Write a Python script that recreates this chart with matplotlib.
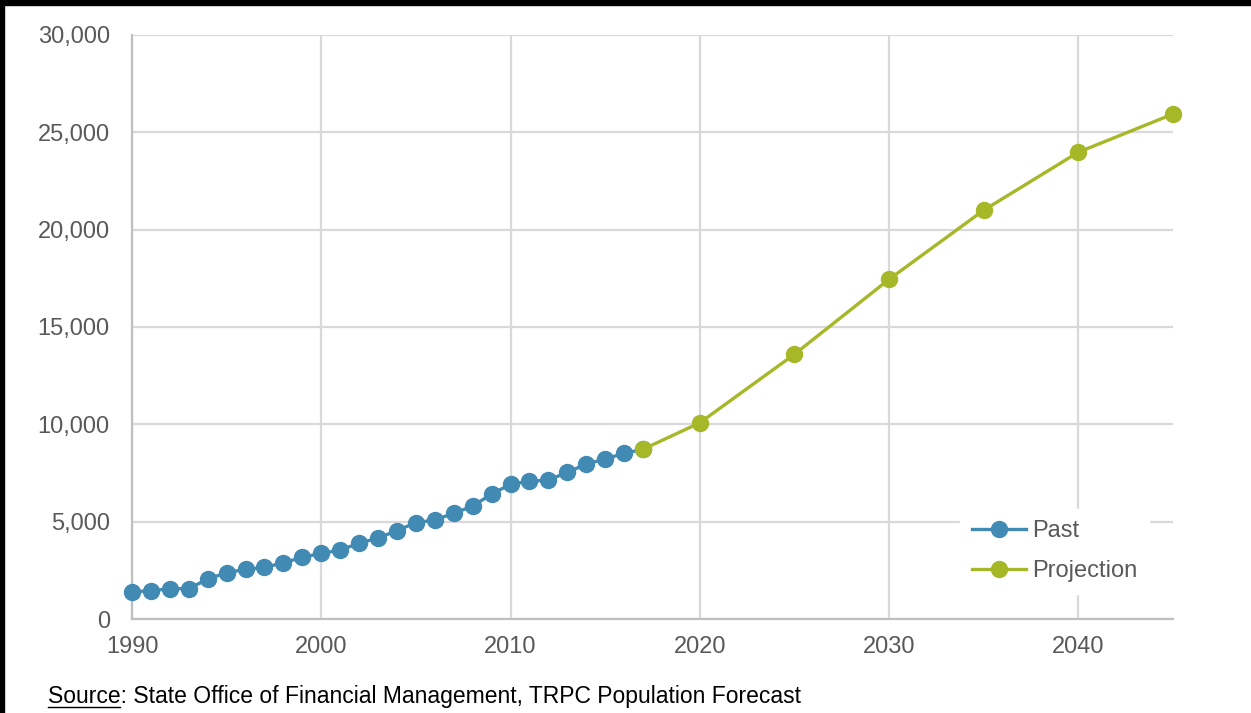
import numpy as np
import matplotlib.pyplot as plt
from matplotlib.ticker import FuncFormatter, MultipleLocator

plt.rcParams['font.family'] = ['Liberation Sans', 'DejaVu Sans']

# Population, past estimates
past_years = [1990, 1991, 1992, 1993, 1994, 1995, 1996, 1997, 1998, 1999,
              2000, 2001, 2002, 2003, 2004, 2005, 2006, 2007, 2008, 2009,
              2010, 2011, 2012, 2013, 2014, 2015, 2016, 2017]
past_pop = [1400, 1450, 1560, 1560, 2050, 2380, 2550, 2650, 2890, 3170,
            3370, 3540, 3890, 4160, 4540, 4950, 5090, 5430, 5800, 6420,
            6920, 7070, 7140, 7530, 7960, 8220, 8510, 8720]

# Forecast
proj_years = [2017, 2020, 2025, 2030, 2035, 2040, 2045]
proj_pop = [8720, 10080, 13600, 17450, 21000, 23980, 25940]

BLUE = '#418AB3'
GREEN = '#A6B727'
GRID = '#d9d9d9'
TEXT = '#595959'

W, H = 1251, 713
fig = plt.figure(figsize=(W / 100, H / 100), dpi=100)
ax = fig.add_axes([132 / W, 1 - 619 / H, (1173 - 132) / W, (619 - 35) / H])

ax.plot(past_years, past_pop, color=BLUE, lw=2.4, marker='o', ms=11.5,
        label='Past', zorder=3, clip_on=False)
ax.plot(proj_years, proj_pop, color=GREEN, lw=2.4, marker='o', ms=11.5,
        label='Projection', zorder=4, clip_on=False)

ax.set_xlim(1990, 2045)
ax.set_ylim(0, 30000)
ax.xaxis.set_major_locator(MultipleLocator(10))
ax.yaxis.set_major_locator(MultipleLocator(5000))
ax.yaxis.set_major_formatter(FuncFormatter(lambda v, p: f'{int(v):,}'))

ax.grid(True, color=GRID, lw=1.6, zorder=0)
ax.set_axisbelow(True)
for side in ['top', 'right']:
    ax.spines[side].set_visible(False)
for side in ['left', 'bottom']:
    ax.spines[side].set_color('#bfbfbf')
    ax.spines[side].set_linewidth(1.6)
ax.tick_params(length=0, width=0, labelsize=17, labelcolor=TEXT)
ax.tick_params(axis='y', pad=16)
ax.tick_params(axis='x', pad=12)

# Legend box sits in the lower right, over the gridlines
leg = ax.legend(loc='lower right',
                bbox_to_anchor=((1149 - 132) / 1041, (619 - 594) / 584),
                borderaxespad=0, fontsize=17, frameon=True, fancybox=False,
                edgecolor='white', handlelength=2.3, handletextpad=0.25,
                labelspacing=0.75, borderpad=0.5, framealpha=1)
for t in leg.get_texts():
    t.set_color(TEXT)

# Source line, with the word "Source" underlined
src_x, src_y = 48 / W, 1 - 697 / H
fig.text(src_x, src_y,
         'Source: State Office of Financial Management, TRPC Population Forecast',
         fontsize=16.5, color='black', va='center', ha='left')
probe = fig.text(src_x, src_y, 'Source', fontsize=16.5, va='center', ha='left')
fig.canvas.draw()
bb = probe.get_window_extent()
probe.remove()
fig.add_artist(plt.Line2D([bb.x0 / W, (bb.x1 - 1) / W],
                          [(bb.y0 + 2) / H, (bb.y0 + 2) / H],
                          color='black', lw=1.0))

# Frame edges at top and left
fig.add_artist(plt.Rectangle((0, 1 - 5 / H), 1, 5 / H, color='black',
                             transform=fig.transFigure))
fig.add_artist(plt.Rectangle((0, 0), 4 / W, 1, color='black',
                             transform=fig.transFigure))

fig.savefig('out.png', dpi=100)
